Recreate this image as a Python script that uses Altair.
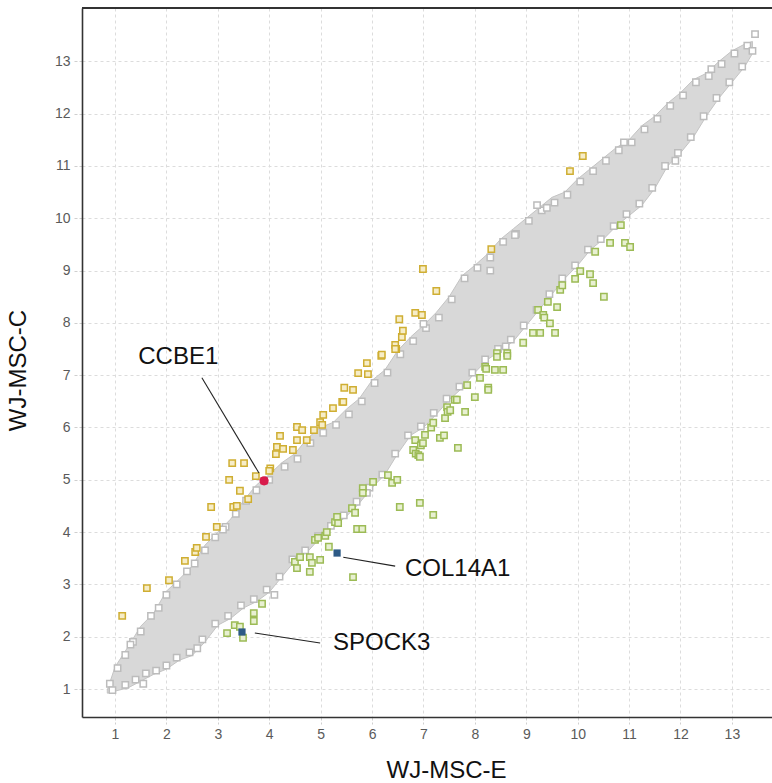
import altair as alt
import pandas as pd

# ---- data ----
# dense grey cloud outline: x, lower edge, upper edge
band_x  = [0.85, 1.0, 1.25, 1.5, 1.75, 2.0, 2.25, 2.5, 2.75, 3.0, 3.25, 3.5, 3.75, 4.0, 4.25, 4.5, 4.75,
           5.0, 5.25, 5.5, 5.75, 6.0, 6.25, 6.5, 6.75, 7.0, 7.25, 7.5, 7.75, 8.0, 8.25, 8.5, 8.75, 9.0,
           9.25, 9.5, 9.75, 10.0, 10.25, 10.5, 10.75, 11.0, 11.25, 11.5, 11.75, 12.0, 12.25, 12.5, 12.75,
           13.0, 13.25, 13.4]
band_lo = [0.92, 0.96, 1.02, 1.15, 1.28, 1.38, 1.55, 1.64, 1.9, 2.22, 2.35, 2.55, 2.67, 2.85, 3.15, 3.45, 3.63,
           3.9, 4.1, 4.3, 4.55, 4.85, 5.1, 5.5, 5.85, 6.0, 6.25, 6.53, 6.75, 7.05, 7.3, 7.47, 7.65, 7.95,
           8.25, 8.55, 8.85, 9.1, 9.4, 9.6, 9.85, 10.05, 10.25, 10.57, 11.0, 11.25, 11.55, 11.95, 12.3,
           12.6, 12.9, 13.15]
band_hi = [0.98, 1.42, 1.8, 2.2, 2.45, 2.87, 3.1, 3.35, 3.75, 4.0, 4.25, 4.6, 4.9, 5.1, 5.33, 5.5, 5.8,
           6.0, 6.1, 6.35, 6.55, 6.9, 7.1, 7.47, 7.73, 7.95, 8.2, 8.5, 8.9, 9.1, 9.32, 9.6, 9.8, 10.0,
           10.2, 10.4, 10.5, 10.75, 10.95, 11.15, 11.35, 11.5, 11.77, 11.95, 12.2, 12.4, 12.65, 12.77, 13.0,
           13.2, 13.33, 13.38]

# grey (unchanged) genes visible along the cloud edges and as stragglers
gray_x = [0.9, 1.05, 1.2, 1.35, 1.5, 1.7, 1.85, 2.0, 2.2, 2.4, 2.55, 2.75, 2.95, 3.15, 3.35, 3.55, 3.75, 4.0,
          4.3, 4.55, 4.8, 5.05, 5.3, 5.55, 5.8, 6.05, 6.3, 6.55, 6.8, 7.05, 7.3, 7.55, 7.8, 8.05, 8.3, 8.55,
          8.8, 9.05, 9.3, 9.55, 9.8, 10.05, 10.3, 10.55, 10.8, 11.05, 11.3, 11.55, 11.8, 12.05, 12.3, 12.55,
          12.8, 13.05, 13.3,
          0.95, 1.2, 1.4, 1.6, 1.8, 2.0, 2.2, 2.45, 2.7, 2.95, 3.2, 3.45, 3.7, 3.95, 4.2, 4.45, 4.7, 4.95,
          5.2, 5.45, 5.7, 5.95, 6.2, 6.45, 6.7, 6.95, 7.2, 7.45, 7.7, 7.95, 8.2, 8.45, 8.7, 8.95, 9.2, 9.45,
          9.7, 9.95, 10.2, 10.45, 10.7, 10.95, 11.2, 11.45, 11.7, 11.95, 12.2, 12.45, 12.7, 12.95, 13.2, 13.4,
          13.45, 9.21, 9.4, 8.78, 8.3, 1.3, 1.55, 2.6, 3.1, 4.1, 5.9, 7.0, 8.6, 10.9, 11.9, 12.6]
gray_y = [1.1, 1.4, 1.65, 1.9, 2.1, 2.4, 2.55, 2.8, 3.0, 3.25, 3.4, 3.65, 3.9, 4.1, 4.35, 4.6, 4.8, 5.0,
          5.25, 5.4, 5.7, 5.9, 6.05, 6.25, 6.5, 6.85, 7.05, 7.4, 7.65, 7.9, 8.1, 8.45, 8.85, 9.05, 9.25, 9.55,
          9.7, 9.95, 10.15, 10.3, 10.45, 10.7, 10.9, 11.1, 11.3, 11.45, 11.7, 11.9, 12.15, 12.35, 12.6, 12.72,
          12.95, 13.15, 13.3,
          0.98, 1.08, 1.18, 1.3, 1.35, 1.45, 1.6, 1.7, 1.95, 2.25, 2.4, 2.6, 2.72, 2.9, 3.15, 3.48, 3.65, 3.92,
          4.12, 4.32, 4.58, 4.85, 5.1, 5.5, 5.85, 6.02, 6.28, 6.55, 6.78, 7.05, 7.3, 7.5, 7.68, 7.95, 8.25, 8.55,
          8.85, 9.1, 9.4, 9.6, 9.85, 10.08, 10.28, 10.58, 11.0, 11.25, 11.55, 11.95, 12.3, 12.6, 12.9, 13.2,
          13.52, 10.25, 10.2, 9.68, 9.0, 1.85, 1.1, 1.78, 4.05, 2.8, 4.75, 7.98, 7.55, 11.45, 11.1, 12.85]

# up-regulated in WJ-MSC-C (yellow)
yellow_x = [1.14, 1.62, 2.05, 2.36, 2.56, 2.59, 2.77, 2.98, 2.87, 3.30, 3.37, 3.43, 3.59, 3.22, 3.28, 3.51,
            3.74, 4.02, 4.0, 4.21, 4.15, 4.27, 4.13, 4.54, 4.54, 4.46, 4.64, 4.73, 4.87, 4.99, 5.03, 5.05,
            5.24, 5.42, 5.46, 5.44, 5.63, 5.73, 5.92, 5.90, 6.18, 6.45, 6.47, 6.45, 6.19, 6.58, 6.6, 6.53,
            6.84, 6.97, 7.25, 6.99, 8.32, 9.85, 10.1]
yellow_y = [2.40, 2.93, 3.08, 3.45, 3.62, 3.70, 3.91, 4.10, 4.48, 4.48, 4.50, 4.79, 4.63, 5.0, 5.32, 5.32,
            5.07, 5.22, 5.17, 5.84, 5.63, 5.59, 5.49, 6.01, 5.76, 5.57, 5.95, 5.76, 5.95, 6.10, 6.05, 6.24,
            6.37, 6.49, 6.76, 6.49, 6.72, 7.04, 7.02, 7.23, 7.37, 7.58, 7.50, 7.50, 7.39, 7.73, 7.85, 8.07,
            8.19, 8.15, 8.61, 9.03, 9.41, 10.9, 11.19]

# up-regulated in WJ-MSC-E (green)
green_x = [3.18, 3.33, 3.43, 3.49, 3.70, 3.70, 3.86, 4.5, 4.54, 4.6, 4.79, 4.79, 4.83, 4.89, 4.95, 4.99,
           5.09, 5.12, 5.16, 5.28, 5.32, 5.34, 5.61, 5.63, 5.67, 5.71, 5.81, 5.82, 5.82, 6.02, 6.31, 6.39,
           6.49, 6.54, 6.8, 6.84, 6.85, 6.9, 6.93, 6.93, 6.95, 6.99, 7.03, 7.15, 7.19, 7.19, 7.32, 7.4,
           7.42, 7.46, 7.47, 7.52, 7.61, 7.65, 7.67, 7.81, 7.85, 8.0, 8.1, 8.2, 8.22, 8.26, 8.26, 8.39,
           8.43, 8.43, 8.55, 8.63, 8.63, 8.94, 9.13, 9.23, 9.27, 9.33, 9.35, 9.42, 9.46, 9.56, 9.6, 9.66,
           9.70, 9.95, 10.05, 10.24, 10.3, 10.34, 10.51, 10.63, 10.84, 10.92, 11.02]
green_y = [2.07, 2.22, 2.19, 1.98, 2.45, 2.30, 2.63, 3.43, 3.31, 3.52, 3.52, 3.24, 3.41, 3.85, 3.89, 3.47,
           3.93, 4.0, 3.72, 4.19, 4.29, 4.17, 4.46, 3.14, 4.37, 4.06, 4.06, 4.84, 4.75, 4.96, 5.09, 4.94,
           5.0, 4.48, 5.57, 5.76, 5.5, 5.47, 4.56, 5.44, 5.66, 5.70, 5.86, 6.0, 6.09, 4.33, 5.80, 5.85,
           6.18, 6.39, 6.3, 6.33, 6.53, 6.53, 5.61, 6.3, 6.81, 6.58, 6.95, 7.16, 7.12, 6.76, 6.72, 7.10,
           7.42, 7.35, 7.10, 7.42, 7.37, 7.62, 7.81, 8.25, 7.81, 8.15, 8.1, 8.4, 7.99, 7.81, 8.3, 8.63,
           8.72, 8.84, 8.99, 8.93, 8.76, 9.36, 8.5, 9.53, 9.87, 9.53, 9.45]

# labelled genes
gene_names = ["CCBE1", "COL14A1", "SPOCK3"]
gene_x = [3.90, 5.32, 3.47]
gene_y = [4.98, 3.60, 2.09]
gene_colors = ["#d81b4b", "#2d5a86", "#2d5a86"]

# annotation (label anchor and leader line ends, in data units)
label_x = [2.23, 6.64, 5.24]
label_y = [7.21, 3.16, 1.75]
label_align = ["center", "left", "left"]
line_x1 = [2.69, 5.44, 3.72]
line_y1 = [6.95, 3.52, 2.07]
line_x2 = [3.80, 6.45, 4.99]
line_y2 = [5.13, 3.35, 1.88]

ticks = list(range(1, 14))

# ---- frames ----
band_df = pd.DataFrame({"x": band_x, "lo": band_lo, "hi": band_hi})
gray_df = pd.DataFrame({"x": gray_x, "y": gray_y})
yel_df = pd.DataFrame({"x": yellow_x, "y": yellow_y})
grn_df = pd.DataFrame({"x": green_x, "y": green_y})
gene_df = pd.DataFrame({"gene": gene_names, "x": gene_x, "y": gene_y, "c": gene_colors})
ann_df = pd.DataFrame({"gene": gene_names, "lx": label_x, "ly": label_y, "anchor": label_align,
                       "x1": line_x1, "y1": line_y1, "x2": line_x2, "y2": line_y2})

W, H = 690, 709
FONT = "Liberation Sans"

xscale = alt.Scale(domain=[0.358, 13.78], nice=False, zero=False)
yscale = alt.Scale(domain=[0.465, 14.02], nice=False, zero=False)

xaxis = alt.Axis(values=ticks, title="WJ-MSC-E", titleX=364, titleY=60, titleBaseline="alphabetic",
                 titleAnchor="start", titleAlign="center")
yaxis = alt.Axis(values=ticks, title="WJ-MSC-C", titleX=-64, titleY=362, titleAngle=-90,
                 titleAlign="center", titleBaseline="middle", titleAnchor="start")

X = lambda f: alt.X(f, type="quantitative", scale=xscale, axis=xaxis)
Y = lambda f: alt.Y(f, type="quantitative", scale=yscale, axis=yaxis)

band = alt.Chart(band_df).mark_area(color="#d8d8d8", stroke="#c4c4c4", strokeWidth=1).encode(
    x=X("x"), y=Y("lo"), y2="hi:Q")

def squares(df, stroke, fill, size=40):
    return alt.Chart(df).mark_point(shape="square", size=size, filled=False, fill=fill, fillOpacity=1,
                                    stroke=stroke, strokeWidth=1.5, opacity=1).encode(x=X("x"), y=Y("y"))

gray = squares(gray_df, "#bcbcbc", "#ffffff")
yel = squares(yel_df, "#cfae32", "#f6edc8")
grn = squares(grn_df, "#9cbb55", "#e8f0d2")

leaders = alt.Chart(ann_df).mark_rule(color="#222222", strokeWidth=1.1).encode(
    x=X("x1"), y=Y("y1"), x2="x2:Q", y2="y2:Q")

hl = alt.Chart(gene_df).mark_square(size=52, opacity=1).encode(
    x=X("x"), y=Y("y"), color=alt.Color("c:N", scale=None))
hl_red = alt.Chart(gene_df[gene_df["gene"] == "CCBE1"]).mark_circle(size=85, opacity=1, color="#d81b4b").encode(
    x=X("x"), y=Y("y"))

lab_c = alt.Chart(ann_df[ann_df["anchor"] == "center"]).mark_text(
    font=FONT, fontSize=24, color="#111111", align="center", baseline="alphabetic").encode(
    x=X("lx"), y=Y("ly"), text="gene:N")
lab_l = alt.Chart(ann_df[ann_df["anchor"] == "left"]).mark_text(
    font=FONT, fontSize=24, color="#111111", align="left", baseline="alphabetic").encode(
    x=X("lx"), y=Y("ly"), text="gene:N")

top_frame = alt.Chart(band_df).mark_rule(color="#333333", strokeWidth=1.6).encode(
    x=alt.value(0), x2=alt.value(W), y=alt.value(0))

chart = alt.layer(band, gray, yel, grn, leaders, hl, hl_red, lab_c, lab_l, top_frame).properties(
    width=W, height=H, autosize="none",
    padding={"left": 82, "top": 8, "right": 0, "bottom": 66},
).configure_view(stroke=None).configure_axis(
    grid=True, gridColor="#dcdcdc", gridDash=[3, 3], gridWidth=1,
    domainColor="#333333", domainWidth=1.6,
    tickColor="#cfcfcf", tickDash=[3, 2], tickWidth=1,
    labelColor="#5a5a5a", labelFont=FONT, labelFontSize=14,
    titleFont=FONT, titleFontSize=24, titleFontWeight="normal", titleColor="#111111",
).configure_axisX(tickSize=7, labelPadding=3).configure_axisY(tickSize=8, labelPadding=4)

chart.save("out.html", embed_options={"renderer": "svg", "actions": False})
